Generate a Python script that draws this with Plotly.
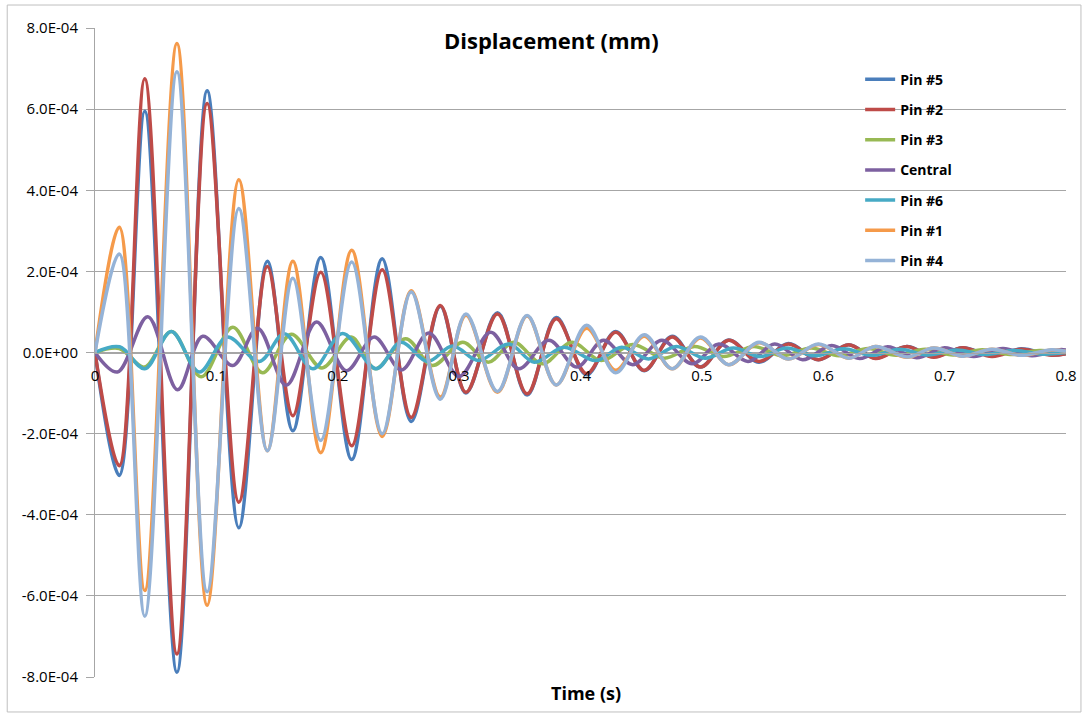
import plotly.graph_objects as go

SCALE = 1e-4  # all series values below are in units of 1E-04 mm

# shared time stamps (s) of the extrema of the four large pins
t_main = [0.0, 0.020, 0.041, 0.0675, 0.0924, 0.1185, 0.142, 0.163, 0.186, 0.2115,
          0.2366, 0.2605, 0.2845, 0.3056, 0.3316, 0.356, 0.380, 0.405, 0.429, 0.4525,
          0.4755, 0.4988, 0.522, 0.547, 0.5712, 0.596, 0.621, 0.643, 0.669, 0.691,
          0.715, 0.739, 0.763, 0.788, 0.8]

pin5 = [0, -3.03, 5.95, -7.88, 6.45, -4.32, 2.25, -1.93, 2.34, -2.64,
        2.31, -1.70, 1.14, -1.00, 0.98, -1.05, 0.86, -0.55, 0.52, -0.45,
        0.40, -0.36, 0.31, -0.24, 0.22, -0.18, 0.19, -0.14, 0.15, -0.10,
        0.12, -0.08, 0.09, -0.06, -0.03]
pin2 = [0, -2.79, 6.75, -7.43, 6.14, -3.69, 2.12, -1.56, 1.98, -2.30,
        2.04, -1.60, 1.16, -0.98, 0.95, -1.02, 0.83, -0.52, 0.50, -0.44,
        0.38, -0.36, 0.30, -0.22, 0.21, -0.18, 0.19, -0.15, 0.15, -0.12,
        0.12, -0.10, 0.08, -0.07, -0.03]
pin1 = [0, 3.09, -5.87, 7.62, -6.23, 4.26, -2.42, 2.25, -2.47, 2.52,
        -2.07, 1.52, -1.10, 0.92, -0.98, 0.90, -0.80, 0.60, -0.44, 0.40,
        -0.40, 0.36, -0.30, 0.24, -0.16, 0.20, -0.14, 0.15, -0.12, 0.11,
        -0.09, 0.08, -0.07, 0.06, 0.03]
pin4 = [0, 2.43, -6.50, 6.92, -5.90, 3.55, -2.42, 1.83, -2.17, 2.23,
        -2.00, 1.49, -1.15, 0.95, -0.96, 0.91, -0.80, 0.67, -0.50, 0.44,
        -0.40, 0.38, -0.30, 0.25, -0.16, 0.21, -0.14, 0.15, -0.11, 0.11,
        -0.09, 0.08, -0.07, 0.07, 0.03]

t_central = [0.0, 0.0185, 0.0435, 0.068, 0.0888, 0.1135, 0.134, 0.1576, 0.1825, 0.207,
             0.230, 0.2525, 0.275, 0.300, 0.326, 0.349, 0.374, 0.397, 0.419, 0.443,
             0.467, 0.492, 0.514, 0.538, 0.560, 0.583, 0.607, 0.630, 0.653, 0.677,
             0.700, 0.724, 0.748, 0.772, 0.795, 0.8]
central = [0, -0.48, 0.88, -0.92, 0.40, -0.32, 0.60, -0.81, 0.75, -0.45,
           0.38, -0.43, 0.48, -0.59, 0.50, -0.40, 0.30, -0.36, 0.30, -0.30,
           0.30, -0.28, 0.21, -0.22, 0.21, -0.18, 0.17, -0.15, 0.14, -0.13,
           0.12, -0.10, 0.10, -0.08, 0.07, 0.06]

t_pin3 = [0.0, 0.020, 0.0408, 0.063, 0.0875, 0.1135, 0.138, 0.1617, 0.187, 0.211,
          0.231, 0.256, 0.278, 0.303, 0.324, 0.345, 0.3686, 0.393, 0.417, 0.443,
          0.469, 0.494, 0.518, 0.543, 0.566, 0.59, 0.613, 0.637, 0.66, 0.684,
          0.707, 0.731, 0.754, 0.778, 0.8]
pin3 = [0, 0.10, -0.36, 0.52, -0.60, 0.62, -0.50, 0.45, -0.38, 0.38,
        -0.40, 0.34, -0.32, 0.25, -0.24, 0.25, -0.28, 0.25, -0.20, 0.20,
        -0.14, 0.15, -0.10, 0.15, -0.08, 0.11, -0.08, 0.10, -0.07, 0.08,
        -0.06, 0.07, -0.05, 0.05, 0.0]

t_pin6 = [0.0, 0.0203, 0.041, 0.0628, 0.086, 0.109, 0.1354, 0.156, 0.1795, 0.204,
          0.2316, 0.252, 0.274, 0.2946, 0.316, 0.341, 0.362, 0.3865, 0.4125, 0.434,
          0.456, 0.479, 0.5025, 0.526, 0.548, 0.57, 0.593, 0.617, 0.64, 0.663,
          0.686, 0.71, 0.733, 0.757, 0.78, 0.8]
pin6 = [0, 0.14, -0.40, 0.52, -0.48, 0.38, -0.22, 0.46, -0.40, 0.47,
        -0.40, 0.25, -0.22, 0.16, -0.20, 0.21, -0.24, 0.13, -0.20, 0.13,
        -0.16, 0.15, -0.14, 0.11, -0.10, 0.11, -0.08, 0.09, -0.07, 0.08,
        -0.06, 0.06, -0.05, 0.05, -0.04, 0.0]

series_names = ["Pin #5", "Pin #2", "Pin #3", "Central", "Pin #6", "Pin #1", "Pin #4"]
series_t = [t_main, t_main, t_pin3, t_central, t_pin6, t_main, t_main]
series_v = [pin5, pin2, pin3, central, pin6, pin1, pin4]
series_colors = ["#4A7EBB", "#BE4B48", "#98B954", "#7D60A0", "#46AAC5", "#F59A4A", "#95B3D7"]

y_ticks = [-8e-4, -6e-4, -4e-4, -2e-4, 0, 2e-4, 4e-4, 6e-4, 8e-4]
y_tick_labels = ["-8.0E-04", "-6.0E-04", "-4.0E-04", "-2.0E-04", "0.0E+00",
                 "2.0E-04", "4.0E-04", "6.0E-04", "8.0E-04"]
x_ticks = [0, 0.1, 0.2, 0.3, 0.4, 0.5, 0.6, 0.7, 0.8]
x_tick_labels = ["0", "0.1", "0.2", "0.3", "0.4", "0.5", "0.6", "0.7", "0.8"]

FONT = "'Open Sans', 'Noto Sans', sans-serif"
GRID = "#A6A6A6"

fig = go.Figure()
for i, (name, t, v, c) in enumerate(zip(series_names, series_t, series_v, series_colors)):
    fig.add_trace(go.Scatter(
        x=t, y=[val * SCALE for val in v], name=name, mode="lines",
        line=dict(color=c, width=3.5, shape="spline", smoothing=1.0),
        legendgroup=f"g{i}",
    ))

fig.update_layout(
    width=1089, height=718,
    margin=dict(l=95, r=21, t=28, b=41),
    paper_bgcolor="white", plot_bgcolor="white",
    font=dict(family=FONT, color="black"),
    showlegend=True,
    legend=dict(
        x=0.788, y=0.945, xanchor="left", yanchor="top",
        bgcolor="rgba(0,0,0,0)", traceorder="grouped", tracegroupgap=9,
        font=dict(family=FONT, size=14, color="black", weight="bold"),
        itemwidth=30,
    ),
    xaxis=dict(
        range=[0, 0.8], tickvals=x_ticks, ticktext=x_tick_labels,
        anchor="free", position=0.5,
        showgrid=False, zeroline=False,
        showline=True, linecolor=GRID, linewidth=1,
        ticks="", ticklabelstandoff=9,
        tickfont=dict(family=FONT, size=15, color="black"),
    ),
    yaxis=dict(
        range=[-8e-4, 8e-4], tickvals=y_ticks, ticktext=y_tick_labels,
        showgrid=True, gridcolor=GRID, gridwidth=1, zeroline=False,
        showline=True, linecolor=GRID, linewidth=1,
        ticks="outside", ticklen=8, tickcolor=GRID,
        ticklabelstandoff=5,
        tickfont=dict(family=FONT, size=15, color="black"),
    ),
    annotations=[
        dict(text="Displacement (mm)", x=0.4697, y=0.9815, xref="paper", yref="paper",
             xanchor="center", yanchor="middle", showarrow=False,
             font=dict(family=FONT, size=22, color="black", weight="bold")),
        dict(text="Time (s)", x=0.506, y=-0.0247, xref="paper", yref="paper",
             xanchor="center", yanchor="middle", showarrow=False,
             font=dict(family=FONT, size=18, color="black", weight="bold")),
    ],
    shapes=[
        dict(type="rect", xref="paper", yref="paper",
             x0=-0.0904, x1=1.0154, y0=-0.0539, y1=1.0354,
             line=dict(color="#BFBFBF", width=1), fillcolor="rgba(0,0,0,0)", layer="below"),
    ],
)

fig.write_html("out.html", config={"displayModeBar": False},
               post_script="document.body.style.margin='0';")
